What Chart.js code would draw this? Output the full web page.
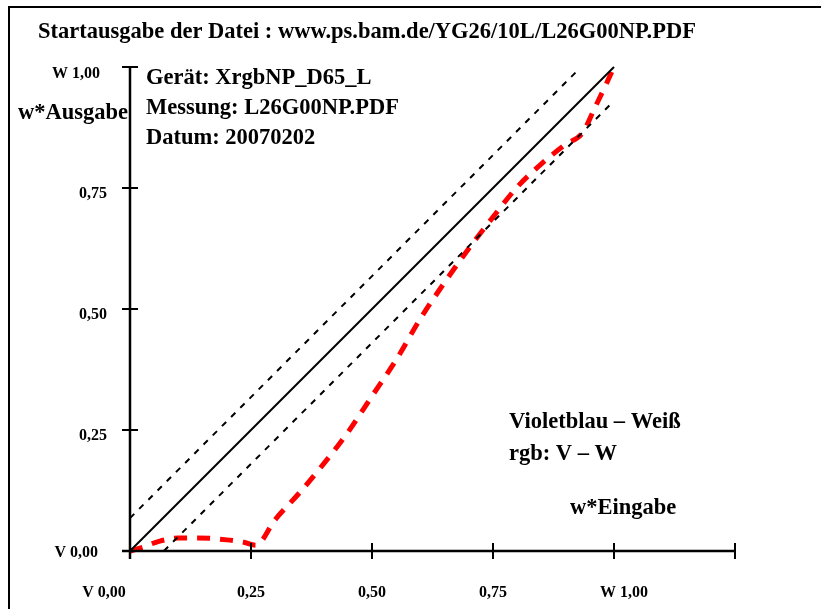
<!DOCTYPE html>
<html>
<head>
<meta charset="utf-8">
<script src="https://cdn.jsdelivr.net/npm/chart.js@4.4.1/dist/chart.umd.min.js"></script>
<style>
  html, body { margin: 0; padding: 0; background: #fff; }
  #wrap { width: 821px; height: 609px; position: relative; }
</style>
</head>
<body>
<div id="wrap"><canvas id="c" width="821" height="609"></canvas></div>
<script>
// ---- data ----
const titleText = 'Startausgabe der Datei : www.ps.bam.de/YG26/10L/L26G00NP.PDF';
const infoLines = ['Gerät: XrgbNP_D65_L', 'Messung: L26G00NP.PDF', 'Datum: 20070202'];
const legendLines = ['Violetblau – Weiß', 'rgb: V – W'];
const xAxisTitle = 'w*Eingabe';
const yAxisTitle = 'w*Ausgabe';

const xTickValues = [0, 0.25, 0.5, 0.75, 1.0, 1.25];
const xTickLabels = ['V 0,00', '0,25', '0,50', '0,75', 'W 1,00', ''];
const yTickValues = [0, 0.25, 0.5, 0.75, 1.0];
const yTickLabels = ['V 0,00', '0,25', '0,50', '0,75', 'W 1,00'];

// reference diagonal and tolerance lines
const diagX = [0, 1];
const diagY = [0, 1];
const upperX = [0, 0.926];
const upperY = [0.068, 0.994];
const lowerX = [0.07, 0.994];
const lowerY = [0, 0.924];

// measured output curve
const measX = [0, 0.027, 0.06, 0.1, 0.14, 0.2, 0.235, 0.26, 0.3, 0.35, 0.4, 0.45, 0.5, 0.55, 0.6, 0.65, 0.7, 0.75, 0.8, 0.85, 0.9, 0.935, 0.96, 0.985, 1.0];
const measY = [0, 0.008, 0.02, 0.027, 0.027, 0.023, 0.018, 0.012, 0.065, 0.12, 0.18, 0.245, 0.32, 0.395, 0.48, 0.555, 0.625, 0.69, 0.752, 0.80, 0.84, 0.864, 0.915, 0.967, 1.0];

const pts = (xs, ys) => xs.map((x, i) => ({ x: x, y: ys[i] }));

const SERIF = '"Liberation Serif", "Times New Roman", Times, serif';

const decor = {
  id: 'decor',
  afterDraw(chart) {
    const ctx = chart.ctx;
    const xs = chart.scales.x, ys = chart.scales.y;
    ctx.save();
    // frame (left + top)
    ctx.strokeStyle = '#000';
    ctx.lineWidth = 2;
    ctx.beginPath();
    ctx.moveTo(9, 609);
    ctx.lineTo(9, 7);
    ctx.lineTo(821, 7);
    ctx.stroke();

    const x0 = xs.getPixelForValue(0);
    const y0 = ys.getPixelForValue(0);
    const xEnd = xs.getPixelForValue(xTickValues[xTickValues.length - 1]);
    const yTop = ys.getPixelForValue(yTickValues[yTickValues.length - 1]);
    // axes
    ctx.lineWidth = 2.5;
    ctx.beginPath();
    ctx.moveTo(x0 - 8, y0); ctx.lineTo(xEnd, y0);
    ctx.moveTo(x0, y0 + 8); ctx.lineTo(x0, yTop);
    ctx.stroke();
    ctx.lineWidth = 2;
    ctx.beginPath();
    xTickValues.forEach(v => {
      const px = xs.getPixelForValue(v);
      ctx.moveTo(px, y0 - 8); ctx.lineTo(px, y0 + 8);
    });
    yTickValues.forEach(v => {
      const py = ys.getPixelForValue(v);
      ctx.moveTo(x0 - 8, py); ctx.lineTo(x0 + 8, py);
    });
    ctx.stroke();

    ctx.fillStyle = '#000';
    // x tick labels
    ctx.font = 'bold 16px ' + SERIF;
    ctx.textBaseline = 'alphabetic';
    ctx.textAlign = 'center';
    xTickValues.forEach((v, i) => {
      const lab = xTickLabels[i];
      if (!lab) return;
      let px = xs.getPixelForValue(v);
      if (i === 0) px -= 26;
      if (i === 4) px += 10;
      ctx.fillText(lab, px, y0 + 46);
    });
    // y tick labels
    ctx.textAlign = 'right';
    yTickValues.forEach((v, i) => {
      const py = ys.getPixelForValue(v);
      let rx = x0 - 23;
      let dy = 10;
      if (i === 0) { rx = x0 - 32; dy = 6; }
      if (i === yTickValues.length - 1) { rx = x0 - 30; dy = 11; }
      ctx.fillText(yTickLabels[i], rx, py + dy);
    });

    // big texts
    ctx.textAlign = 'left';
    ctx.font = 'bold 22.5px ' + SERIF;
    ctx.fillText(titleText, 38, 38);
    infoLines.forEach((t, i) => ctx.fillText(t, 146, 84 + i * 30));
    ctx.fillText(yAxisTitle, 18, 119);
    legendLines.forEach((t, i) => ctx.fillText(t, 509, 428 + i * 32));
    ctx.fillText(xAxisTitle, 570, 514);
    ctx.restore();
  }
};

new Chart(document.getElementById('c'), {
  type: 'line',
  data: {
    datasets: [
      { data: pts(diagX, diagY), borderColor: '#000', borderWidth: 2, pointRadius: 0, tension: 0 },
      { data: pts(upperX, upperY), borderColor: '#000', borderWidth: 2, borderDash: [6, 7], pointRadius: 0, tension: 0 },
      { data: pts(lowerX, lowerY), borderColor: '#000', borderWidth: 2, borderDash: [6, 7], pointRadius: 0, tension: 0 },
      { data: pts(measX, measY), borderColor: '#ff0000', borderWidth: 5, borderDash: [13, 10], pointRadius: 0, cubicInterpolationMode: 'monotone', borderCapStyle: 'butt' }
    ]
  },
  options: {
    responsive: false,
    animation: false,
    devicePixelRatio: 1,
    layout: { padding: { left: 130, right: 86, top: 67, bottom: 58 } },
    plugins: { legend: { display: false }, tooltip: { enabled: false }, title: { display: false } },
    elements: { line: { fill: false } },
    datasets: { line: { clip: false } },
    scales: {
      x: { type: 'linear', min: 0, max: 1.25, display: false },
      y: { type: 'linear', min: 0, max: 1.0, display: false }
    }
  },
  plugins: [decor]
});
</script>
</body>
</html>
